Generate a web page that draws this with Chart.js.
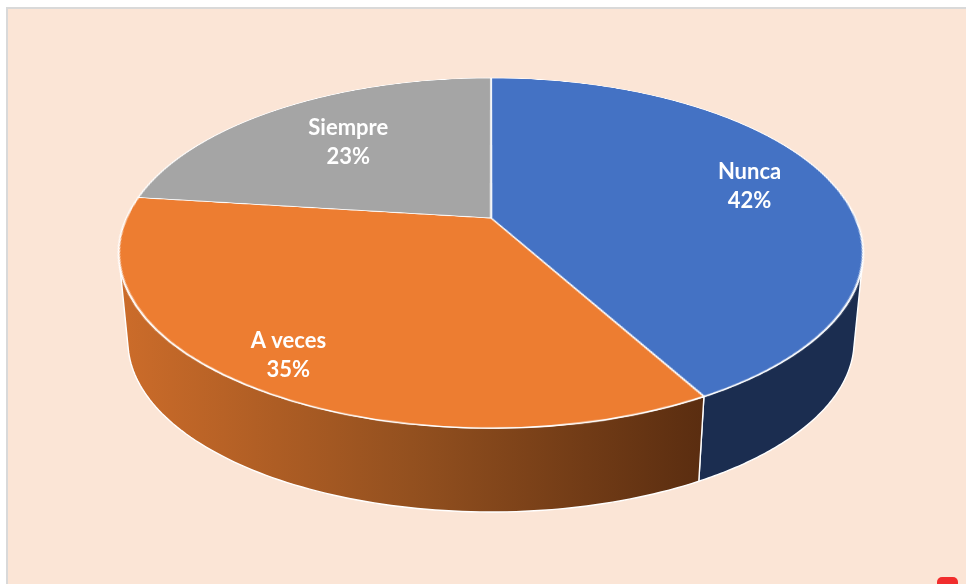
<!DOCTYPE html>
<html>
<head>
<meta charset="utf-8">
<script src="https://cdn.jsdelivr.net/npm/chart.js@4.4.1/dist/chart.umd.min.js"></script>
<style>
  html,body{margin:0;padding:0;background:#fff;}
  #frame{position:absolute;left:6px;top:7px;width:962px;height:580px;background:#FBE5D6;border-left:2px solid #D9D9D9;border-top:2px solid #D9D9D9;}
  #chart{position:absolute;left:0;top:0;}
  #dot{position:absolute;left:937px;top:577px;width:21px;height:12px;background:#F12D2D;border-radius:5px;}
</style>
</head>
<body>
<div id="frame"></div>
<canvas id="chart" width="966" height="584"></canvas>
<div id="dot"></div>
<script>
const categories = ["Nunca","A veces","Siempre"];
const percentages = [42,35,23];
const topColors = ["#4472C4","#ED7D31","#A5A5A5"];

// perspective view of the pie (screen pixels)
const view = {cx:491, cy:218, topY:78, botY:428, rx:364.5, frontBottom:512, shrink:0.976};
const labelRadius = [0.76,0.85,0.65];

const g = (2*view.cy - view.topY - view.botY)/(view.botY - view.topY);
const B = view.botY*(1+g) - view.cy;
// vanishing point of the vertical edges
const V = [view.cx, (view.frontBottom - view.shrink*view.botY)/(1-view.shrink)];

// point of the flat unit disk -> screen (top face)
function proj(u,v){
  const d = 1 + g*v;
  return [view.cx + view.rx*u/d, (view.cy + B*v)/d];
}
// top face point -> matching point on the bottom face
function down(p){
  return [V[0] + view.shrink*(p[0]-V[0]), V[1] + view.shrink*(p[1]-V[1])];
}
function rowToV(y){ return (y - view.cy)/(B - g*y); }

// angle where the side outline touches the top rim
let rimAngle = 0, best = -Infinity;
for(let t=0;t<0.8;t+=0.0005){
  const p = proj(Math.cos(t),Math.sin(t));
  const s = (p[0]-V[0])/(V[1]-p[1]);
  if(s>best){best=s;rimAngle=t;}
}

function sideStyle(ctx,i,a1,a2){
  if(i===0) return "#1B2D50";
  if(i===1){
    const x0 = proj(Math.cos(a2),Math.sin(a2))[0];
    const x1 = proj(Math.cos(a1),Math.sin(a1))[0];
    const grad = ctx.createLinearGradient(x0,0,x1,0);
    grad.addColorStop(0,"#CC6C2A");
    grad.addColorStop(0.5,"#93501F");
    grad.addColorStop(1,"#5A2D10");
    return grad;
  }
  return "#6F6F6F";
}

function drawSides(ctx,arcs){
  arcs.forEach((arc,i)=>{
    const a1 = Math.max(arc.startAngle,rimAngle);
    const a2 = Math.min(arc.endAngle,Math.PI-rimAngle);
    if(a2<=a1) return;
    const n = 90;
    const pts = [];
    for(let k=0;k<=n;k++){
      const t = a1 + (a2-a1)*k/n;
      pts.push(proj(Math.cos(t),Math.sin(t)));
    }
    ctx.beginPath();
    pts.forEach((p,k)=> k ? ctx.lineTo(p[0],p[1]) : ctx.moveTo(p[0],p[1]));
    for(let k=n;k>=0;k--){
      const q = down(pts[k]);
      ctx.lineTo(q[0],q[1]);
    }
    ctx.closePath();
    ctx.fillStyle = sideStyle(ctx,i,a1,a2);
    ctx.fill();
    ctx.strokeStyle = "#ffffff";
    ctx.lineWidth = 1.4;
    ctx.lineJoin = "round";
    ctx.stroke();
  });
}

const pie3d = {
  id:"pie3d",
  afterDatasetsDraw(chart){
    const ctx = chart.ctx;
    const canvas = chart.canvas;
    const arcs = chart.getDatasetMeta(0).data;
    const el = arcs[0];
    const R = el.outerRadius + 2;

    // keep the flat pie that Chart.js drew, then lay it down in perspective
    const flat = document.createElement("canvas");
    flat.width = canvas.width; flat.height = canvas.height;
    flat.getContext("2d").drawImage(canvas,0,0);

    ctx.save();
    ctx.setTransform(1,0,0,1,0,0);
    ctx.clearRect(0,0,canvas.width,canvas.height);
    drawSides(ctx,arcs);

    ctx.imageSmoothingEnabled = true;
    for(let y=view.topY-2;y<=view.botY+2;y++){
      const v0 = rowToV(y), v1 = rowToV(y+1);
      if(v1 < -1.02 || v0 > 1.02) continue;
      const s = 1/(1+g*(v0+v1)/2);
      const kx = view.rx/el.outerRadius*s;
      const sy = el.y + el.outerRadius*v0;
      const sh = el.outerRadius*(v1-v0);
      ctx.drawImage(flat, el.x-R, sy, 2*R, sh, view.cx - R*kx, y, 2*R*kx, 1);
    }

    // labels
    ctx.fillStyle = "#ffffff";
    ctx.font = "bold 22px Lato";
    ctx.textAlign = "center";
    ctx.textBaseline = "middle";
    arcs.forEach((arc,i)=>{
      const mid = (arc.startAngle+arc.endAngle)/2;
      const f = labelRadius[i];
      const p = proj(f*Math.cos(mid), f*Math.sin(mid));
      ctx.fillText(categories[i],p[0],p[1]-15);
      ctx.fillText(percentages[i]+"%",p[0],p[1]+14);
    });
    ctx.restore();
  }
};

new Chart(document.getElementById("chart"),{
  type:"pie",
  data:{
    labels:categories,
    datasets:[{
      data:percentages,
      backgroundColor:topColors,
      borderColor:"#ffffff",
      borderWidth:1.5
    }]
  },
  options:{
    responsive:false,
    animation:false,
    events:[],
    layout:{padding:0},
    plugins:{legend:{display:false},tooltip:{enabled:false}}
  },
  plugins:[pie3d]
});
</script>
</body>
</html>
